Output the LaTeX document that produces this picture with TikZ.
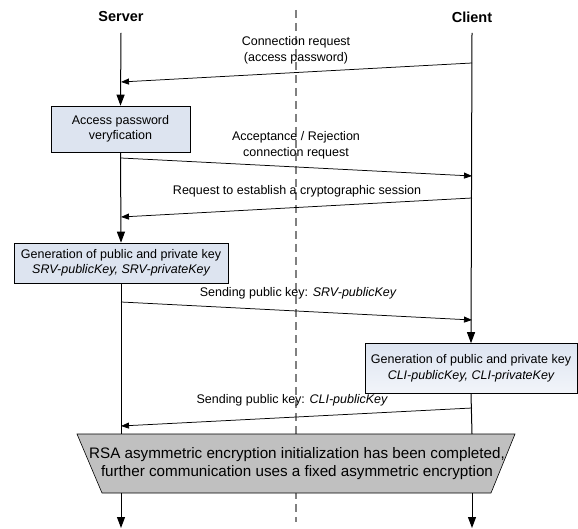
\documentclass[tikz,border=0pt]{standalone}
\usepackage{fontspec}
\setmainfont{Liberation Sans}
\usetikzlibrary{arrows.meta}
\definecolor{boxblue}{HTML}{DDE4F0}
\definecolor{boxlight}{HTML}{F2F5FA}
\definecolor{trapgray}{HTML}{C0C0C0}
\definecolor{dashgray}{HTML}{808080}
\begin{document}
\begin{tikzpicture}[x=1pt,y=-1pt,
  msg/.style={line width=0.75pt, -{Triangle[length=8pt,width=6pt]}},
  life/.style={line width=1pt},
  lifearr/.style={life, -{Triangle[length=11pt,width=8pt]}},
  procbox/.style={draw=black, line width=0.6pt, fill=boxblue, align=center, inner sep=0pt, font=\fontsize{12.5}{15.5}\selectfont},
  lbl/.style={font=\fontsize{12.5}{16}\selectfont, align=center, inner sep=0pt},
  head/.style={font=\fontsize{14.5}{16}\selectfont\bfseries, inner sep=0pt}
]
\useasboundingbox (0,0) rectangle (578,529);
% headers
\node[head] (srv) at (121,17) {Server};
\node[head] (cli) at (472,17) {Client};
% separator
\draw[dashgray, line width=1.1pt, dash pattern=on 8pt off 5pt] (296,10) -- (296,522);
% boxes
\node[procbox, minimum width=139, minimum height=46] (b1) at (120.5,129) {Access password\\veryfication};
\node[procbox, minimum width=214, minimum height=40] (b2) at (121,263) {Generation of public and private key\\\itshape SRV-publicKey, SRV-privateKey};
\node[procbox, minimum width=212, minimum height=50, top color=boxblue, bottom color=boxlight] (b3) at (471,368.5) {Generation of public and private key\\\itshape CLI-publicKey, CLI-privateKey};
% trapezoid
\coordinate (tl) at (77,434);
\coordinate (tr) at (515,434);
\coordinate (br) at (491,493);
\coordinate (bl) at (102,493);
\draw[fill=trapgray, line width=0.6pt] (tl) -- (tr) -- (br) -- (bl) -- cycle;
\node[font=\fontsize{15.2}{18.5}\selectfont, align=center, inner sep=0pt] (fin) at (297,463.5) {RSA asymmetric encryption initialization has been completed,\\further communication uses a fixed asymmetric encryption};
% lifeline coordinates
\coordinate (s0) at (121,33);
\coordinate (c0) at (472,33);
\coordinate (s1) at (121,82);
\coordinate (c1) at (472,63);
\coordinate (s2) at (121,158);
\coordinate (c2) at (472,176);
\coordinate (c3) at (472,198);
\coordinate (s3) at (121,217);
\coordinate (s4) at (121,302);
\coordinate (c4) at (472,320);
\coordinate (c5) at (472,408);
\coordinate (s5) at (121,426);
\coordinate (stop) at (121,434);
\coordinate (ctop) at (472,434);
\coordinate (sbot) at (121,493);
\coordinate (cbot) at (472,493);
\coordinate (send) at (121,528);
\coordinate (cend) at (472,528);
% lifelines
\draw[lifearr] (s0) -- (b1.north);
\draw[lifearr] (b1.south) -- (b2.north);
\draw[life] (b2.south) -- (stop);
\draw[lifearr] (sbot) -- (send);
\draw[lifearr] (c0) -- (b3.north);
\draw[life] (b3.south) -- (ctop);
\draw[lifearr] (cbot) -- (cend);
% messages
\draw[msg] (c1) -- (s1);
\node[lbl] (m1) at (296,50) {Connection request\\(access password)};
\draw[msg] (s2) -- (c2);
\node[lbl] (m2) at (296,145.5) {Acceptance / Rejection\\connection request};
\draw[msg] (c3) -- (s3);
\node[lbl] (m3) at (297,191) {Request to establish a cryptographic session};
\draw[msg] (s4) -- (c4);
\node[lbl] (m4) at (298,293) {Sending public key: \itshape SRV-publicKey};
\draw[msg] (c5) -- (s5);
\node[lbl] (m5) at (292,400) {Sending public key: \itshape CLI-publicKey};
\end{tikzpicture}
\end{document}
